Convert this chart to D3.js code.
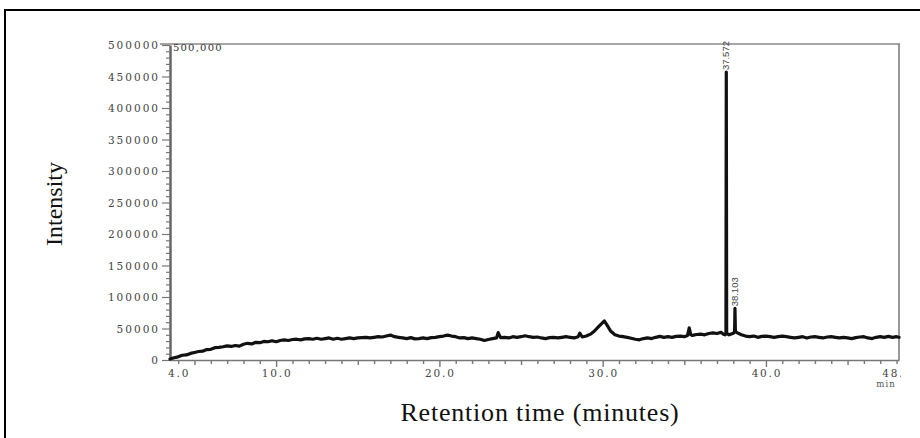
<!DOCTYPE html>
<html>
<head>
<meta charset="utf-8">
<script src="https://cdn.jsdelivr.net/npm/d3@7"></script>
<style>
html,body{margin:0;padding:0;background:#fff;}
svg{display:block;}
</style>
</head>
<body>
<svg id="chart" width="920" height="438"></svg>
<script>
// ---- data ----
const times = [
 3.5,3.75,4.0,4.25,4.5,4.75,5.0,5.25,5.5,5.75,6.0,6.25,6.5,6.75,7.0,7.25,7.5,7.75,8.0,8.25,8.5,8.75,9.0,9.25,9.5,9.75,
 10.0,10.25,10.5,10.75,11.0,11.25,11.5,11.75,12.0,12.25,12.5,12.75,13.0,13.25,13.5,13.75,14.0,14.25,14.5,14.75,
 15.0,15.25,15.5,15.75,16.0,16.25,16.5,16.75,17.0,17.25,17.5,17.75,18.0,18.25,18.5,18.75,19.0,19.25,19.5,19.75,
 20.0,20.25,20.5,20.75,21.0,21.25,21.5,21.75,22.0,22.25,22.5,22.75,23.0,23.25,23.5,23.6,23.75,24.0,24.25,24.5,24.75,
 25.0,25.25,25.5,25.75,26.0,26.25,26.5,26.75,27.0,27.25,27.5,27.75,28.0,28.25,28.5,28.6,28.75,29.0,29.25,29.5,29.75,
 30.0,30.1,30.25,30.5,30.75,31.0,31.25,31.5,31.75,32.0,32.25,32.5,32.75,33.0,33.25,33.5,33.75,34.0,34.25,34.5,34.75,
 35.0,35.2,35.3,35.4,35.5,35.75,36.0,36.25,36.5,36.75,37.0,37.25,37.4,37.5,37.55,37.572,37.595,37.75,38.0,38.08,38.103,38.13,
 38.25,38.5,38.75,39.0,39.25,39.5,39.75,40.0,40.25,40.5,40.75,41.0,41.25,41.5,41.75,42.0,42.25,42.5,42.75,
 43.0,43.25,43.5,43.75,44.0,44.25,44.5,44.75,45.0,45.25,45.5,45.75,46.0,46.25,46.5,46.75,47.0,47.25,47.5,47.75,48.0,48.15
];
const intensity = [
 1500,3500,5000,7500,8000,10500,12000,13500,14000,16500,17000,19500,20000,21000,22500,21500,23000,22000,25000,26500,25500,28000,27500,29500,29000,30500,
 29000,31000,32000,31000,32500,33000,32000,33500,34000,33000,34500,33000,34000,35000,33000,34500,33000,34000,35000,34000,
 35000,35500,36000,35000,36000,37000,36500,38000,39500,37000,36000,35000,34000,35500,33500,34000,35000,34000,35500,36000,
 37000,38000,39500,38000,37000,35000,35500,34000,35000,34000,33000,31000,32500,34000,35000,43500,35500,36000,35000,37000,36000,
 37000,38500,37000,36000,36500,35000,34000,35500,36000,35000,36000,37000,36000,35000,37000,42500,36500,38000,41000,46000,53000,
 59500,62000,56000,45500,40000,38000,37000,36000,34500,33000,32000,34000,35000,34000,36000,37500,36000,37000,36000,37500,38000,
 37000,39000,51000,40000,39000,40500,41000,40000,42000,43000,42000,44000,41000,40000,42000,457000,42000,40000,42500,44500,82000,45000,
 43000,40000,38000,37000,38000,36000,37500,38000,37000,36000,37000,38000,37000,36000,35000,36000,37000,35000,36500,
 37000,36000,35000,36500,37000,36000,35000,36000,35000,34000,35500,36500,37000,35000,34000,36000,37000,36000,37500,36000,37000,36000
];
const yTicks = [0,50000,100000,150000,200000,250000,300000,350000,400000,450000,500000];
const xTickLabels = [4.0,10.0,20.0,30.0,40.0,48.0];
const peakLabels = [{t:37.572, v:457000, text:"37.572"},{t:38.103, v:82000, text:"38.103"}];

// ---- layout ----
const svg = d3.select("#chart");
const x = d3.scaleLinear().domain([3.5, 48.15]).range([170, 899]);
const y = d3.scaleLinear().domain([0, 500000]).range([360, 45]);

// outer frame
svg.append("rect").attr("x",5).attr("y",10).attr("width",1000).attr("height",1000)
  .attr("fill","none").attr("stroke","#000").attr("stroke-width",2);

// plot frame: top and right lines
svg.append("line").attr("x1",160).attr("x2",900).attr("y1",44).attr("y2",44)
  .attr("stroke","#888").attr("stroke-width",1.5);
svg.append("line").attr("x1",899).attr("x2",899).attr("y1",44).attr("y2",360)
  .attr("stroke","#777").attr("stroke-width",1.5);

const tickFont = "'DejaVu Serif', serif";

// y axis
const yMinor = d3.range(0, 500001, 10000);
const yAxis = d3.axisLeft(y).tickValues(yMinor)
  .tickSize(0).tickFormat("");
const gy = svg.append("g").attr("transform","translate(170,0)").call(yAxis);
gy.select(".domain").attr("stroke","#666").attr("stroke-width",2.5);
gy.selectAll(".tick line").remove();
gy.selectAll(".tick").append("line")
  .attr("x1", d => yTicks.includes(d) ? -8 : -4).attr("x2",0)
  .attr("stroke","#777").attr("stroke-width",1.2);
gy.selectAll(".tick").filter(d => yTicks.includes(d)).append("text")
  .attr("x",-10).attr("dy","0.35em")
  .attr("text-anchor","end")
  .style("font-family",tickFont).style("font-size","10.5px")
  .style("letter-spacing","2px")
  .attr("fill","#444")
  .text(d => d);

svg.append("text").attr("x",173).attr("y",51)
  .style("font-family",tickFont).style("font-size","10px").style("letter-spacing","1.2px")
  .attr("fill","#333").text("500,000");

// x axis
const xMinor = d3.range(4, 49, 1);
const xAxis = d3.axisBottom(x).tickValues(xMinor).tickSize(0).tickFormat("");
const gx = svg.append("g").attr("transform","translate(0,360)").call(xAxis);
gx.select(".domain").attr("stroke","#777").attr("stroke-width",1.5);
gx.selectAll(".tick line").remove();
gx.selectAll(".tick").append("line")
  .attr("y1",1).attr("y2", d => d % 10 === 0 ? 7 : (d % 5 === 0 ? 5 : 4))
  .attr("stroke","#777").attr("stroke-width",1.4);

svg.append("clipPath").attr("id","xlabclip").append("rect")
  .attr("x",0).attr("y",0).attr("width",901).attr("height",438);
svg.append("g").attr("clip-path","url(#xlabclip)")
  .selectAll("text").data(xTickLabels).join("text")
  .attr("x", d => x(d) + 1).attr("y",377)
  .attr("text-anchor","middle")
  .style("font-family",tickFont).style("font-size","10.5px").style("letter-spacing","1.8px")
  .attr("fill","#444")
  .text(d => d3.format(".1f")(d));

svg.append("text").attr("x",886).attr("y",387).attr("text-anchor","middle")
  .style("font-family",tickFont).style("font-size","8.5px").style("letter-spacing","1px")
  .attr("fill","#555").text("min");

// trace
const pts = times.map((t,i) => [t, intensity[i]]);
const line = d3.line().x(d => x(d[0])).y(d => y(d[1]));
svg.append("path").datum(pts).attr("d", line)
  .attr("fill","none").attr("stroke","#111").attr("stroke-width",3.2)
  .attr("stroke-linejoin","round").attr("stroke-linecap","round");

// peak labels
svg.selectAll(".pk").data(peakLabels).join("text").attr("class","pk")
  .attr("transform", d => `translate(${x(d.t)+3},${y(d.v)-2}) rotate(-90)`)
  .attr("text-anchor","start")
  .style("font-family","'Liberation Sans Narrow','Liberation Sans',sans-serif")
  .style("font-size","9.5px")
  .attr("fill","#444")
  .text(d => d.text);

// axis titles
svg.append("text").attr("transform","translate(62,204) rotate(-90)")
  .attr("text-anchor","middle")
  .style("font-family","'Liberation Serif', serif").style("font-size","24px")
  .attr("fill","#111").text("Intensity");
svg.append("text").attr("x",540).attr("y",421).attr("text-anchor","middle")
  .style("font-family","'Liberation Serif', serif").style("font-size","26px")
  .style("letter-spacing","0.8px")
  .attr("fill","#111").text("Retention time (minutes)");
</script>
</body>
</html>
